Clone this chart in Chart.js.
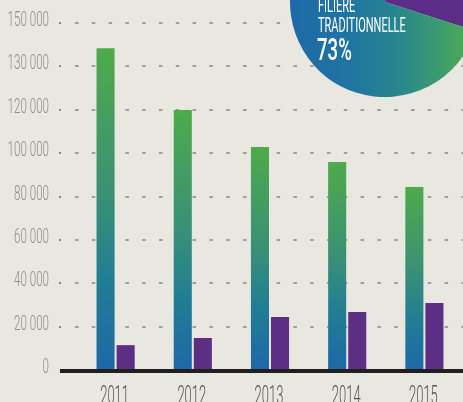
<!DOCTYPE html>
<html>
<head>
<meta charset="utf-8">
<script src="https://cdn.jsdelivr.net/npm/chart.js@4.4.1/dist/chart.umd.min.js"></script>
<style>
  html, body { margin: 0; padding: 0; background: #e8e8e1; overflow: hidden; }
  #wrap { position: relative; width: 463px; height: 402px; }
  #bars { position: absolute; left: 0; top: 0; }
  #pie { position: absolute; left: 285px; top: -98px; }
</style>
</head>
<body>
<div id="wrap">
  <canvas id="bars" width="463" height="402"></canvas>
  <canvas id="pie" width="200" height="200"></canvas>
</div>
<script>
// data
const years = ['2011', '2012', '2013', '2014', '2015'];
const traditionnelle = [147900, 119400, 102400, 95400, 83900];
const autre = [11000, 14300, 24000, 26300, 30400];
const yTicks = [0, 20000, 40000, 60000, 80000, 100000, 120000, 140000, 160000];
const yTickLabels = ['0', '20 000', '40 000', '60 000', '80 000', '100 000', '120 000', '130 000', '150 000'];
const partLabels = ['Autre', 'Filière traditionnelle'];
const partValues = [27, 73];

const FONT = 'Roboto, "Liberation Sans", sans-serif';

// draws horizontally squeezed text (the original uses a very narrow face)
function narrowText(ctx, text, x, y, size, weight, sx, align, color) {
    ctx.save();
    ctx.translate(x, y);
    ctx.scale(sx, 1);
    ctx.font = weight + ' ' + size + 'px ' + FONT;
    ctx.textAlign = align;
    ctx.textBaseline = 'alphabetic';
    ctx.fillStyle = color;
    ctx.fillText(text, 0, 0);
    ctx.restore();
}

function barGradient(context) {
    const chart = context.chart;
    const y = chart.scales.y;
    if (!chart.chartArea || !y || context.raw === undefined) return '#2a8585';
    const top = y.getPixelForValue(context.raw);
    const bottom = y.getPixelForValue(0);
    const g = chart.ctx.createLinearGradient(0, top, 0, bottom);
    g.addColorStop(0, '#4eaa4b');
    g.addColorStop(0.45, '#3a9175');
    g.addColorStop(0.72, '#217e93');
    g.addColorStop(1, '#1d68a8');
    return g;
}

const gridAndLabels = {
    id: 'gridAndLabels',
    beforeDatasetsDraw(chart) {
        const ctx = chart.ctx;
        const y = chart.scales.y;
        ctx.save();
        ctx.strokeStyle = '#9e9e9a';
        ctx.lineWidth = 2;
        yTicks.forEach((v, i) => {
            if (v === 0) return;
            const py = Math.round(y.getPixelForValue(v)) + 1;
            ctx.fillStyle = '#8a8a86';
            ctx.fillRect(59, py - 1, 2, 2);
            ctx.setLineDash([3.5, 13.3]);
            ctx.beginPath();
            ctx.moveTo(75, py);
            ctx.lineTo(chart.width, py);
            ctx.stroke();
        });
        ctx.restore();
    },
    afterDatasetsDraw(chart) {
        const ctx = chart.ctx;
        const y = chart.scales.y;
        const x = chart.scales.x;
        const base = y.getPixelForValue(0);
        ctx.save();
        ctx.fillStyle = '#231f20';
        ctx.fillRect(60, base, chart.width - 60, 4);
        ctx.restore();

        yTicks.forEach((v, i) => {
            const py = y.getPixelForValue(v);
            narrowText(ctx, yTickLabels[i], 49, py + 4, 20, 300, 0.58, 'right', '#8e8e8a');
        });
        years.forEach((yr, i) => {
            narrowText(ctx, yr, x.getPixelForTick(i) - 1, 404, 26, 300, 0.5, 'center', '#555553');
        });
    }
};

new Chart(document.getElementById('bars').getContext('2d'), {
    type: 'bar',
    data: {
        labels: years,
        datasets: [{
            label: 'Filière traditionnelle',
            data: traditionnelle,
            backgroundColor: barGradient,
            borderWidth: 0
        }, {
            label: 'Autre',
            data: autre,
            backgroundColor: '#5c2e84',
            borderWidth: 0
        }]
    },
    options: {
        responsive: false,
        animation: false,
        events: [],
        layout: { padding: { left: 77, right: 0, top: 22, bottom: 33 } },
        datasets: { bar: { categoryPercentage: 0.52, barPercentage: 0.9 } },
        plugins: { legend: { display: false }, tooltip: { enabled: false } },
        scales: {
            x: { display: false },
            y: { display: false, min: 0, max: 160000 }
        }
    },
    plugins: [gridAndLabels]
});

const pieText = {
    id: 'pieText',
    afterDatasetsDraw(chart) {
        const ctx = chart.ctx;
        narrowText(ctx, 'FILIERE', 33, 110, 20, 400, 0.55, 'left', '#ffffff');
        narrowText(ctx, 'TRADITIONNELLE', 33, 130, 20, 400, 0.55, 'left', '#ffffff');
        narrowText(ctx, partValues[1] + '%', 32, 158, 31, 500, 0.6, 'left', '#ffffff');
    }
};

new Chart(document.getElementById('pie').getContext('2d'), {
    type: 'pie',
    data: {
        labels: partLabels,
        datasets: [{
            data: partValues,
            borderWidth: 0,
            hoverOffset: 0,
            backgroundColor: function (context) {
                if (context.dataIndex === 0) return '#5b2d86';
                const g = context.chart.ctx.createLinearGradient(5, 0, 178, 0);
                g.addColorStop(0, '#1e69a8');
                g.addColorStop(0.35, '#1f75a0');
                g.addColorStop(0.6, '#26848f');
                g.addColorStop(0.85, '#3b9a70');
                g.addColorStop(1, '#4ba65a');
                return g;
            }
        }]
    },
    options: {
        responsive: false,
        animation: false,
        events: [],
        radius: 95,
        rotation: 10.6,
        layout: { padding: 0 },
        plugins: { legend: { display: false }, tooltip: { enabled: false } }
    },
    plugins: [pieText]
});
</script>
</body>
</html>
